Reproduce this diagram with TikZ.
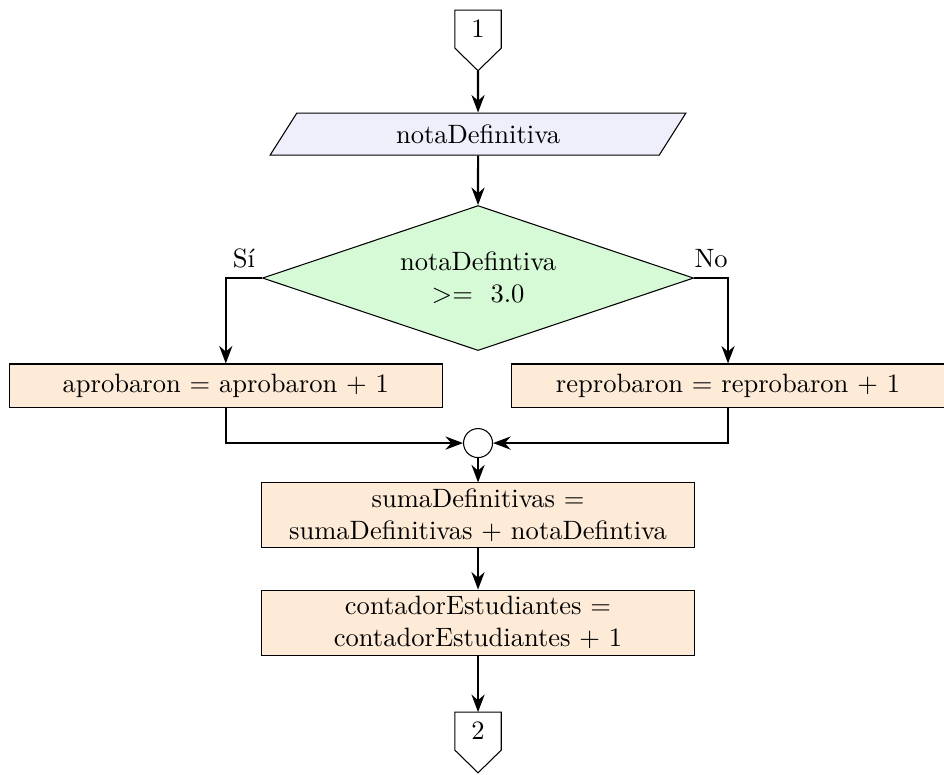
\documentclass[tikz,border=0pt]{standalone}
\usepackage{tikz}
\usetikzlibrary{arrows.meta, shapes.geometric, positioning}
\definecolor{entradafill}{HTML}{EFEFFC}
\definecolor{decisionfill}{HTML}{D6FAD6}
\definecolor{procesofill}{HTML}{FDEBD7}
\begin{document}
\begin{tikzpicture}[
    flecha/.style={thick, -{Stealth}},
    conector/.style={rectangle, inner sep=0pt, minimum width=0.6cm, minimum height=0.49cm, anchor=north},
    proceso/.style={rectangle, draw, fill=procesofill, align=center,
      minimum width=5.73cm, minimum height=0.57cm, inner sep=2pt}
  ]
  \useasboundingbox (0,0) rectangle (12.5,10.25);

  % ============ Entrada ============
  \node[conector] (ini) at (6.33,10.117) {1};
  \coordinate[below=0.3cm of ini.south] (ini-punta);
  \draw (ini.north west) -- (ini.north east) -- (ini.south east) -- (ini-punta) -- (ini.south west) -- cycle;

  \node[trapezium, trapezium left angle=70, trapezium right angle=110,
        trapezium stretches=true, draw, fill=entradafill,
        minimum width=5.52cm, minimum height=0.556cm] (lectura) at (6.33,8.475) {notaDefinitiva};

  % ============ Decision ============
  \node[diamond, aspect=3, draw, fill=decisionfill, align=center, inner sep=0pt,
        minimum width=5.71cm, minimum height=1.92cm] (pregunta) at (6.33,6.568)
        {notaDefintiva\\ >= \ 3.0};

  % two branches: passed and failed
  \node[proceso] (aprobo) at (2.99,5.145) {aprobaron = aprobaron + 1};
  \node[proceso] (reprobo) at (9.64,5.145) {reprobaron = reprobaron + 1};

  % ============ Union of branches ============
  \node[circle, draw, fill=white, minimum size=0.384cm, inner sep=0pt] (union) at (6.33,4.383) {};

  \node[proceso, minimum height=0.85cm] (suma) at (6.33,3.43)
    {sumaDefinitivas =\\ sumaDefinitivas + notaDefintiva};
  \node[proceso, minimum height=0.86cm] (contador) at (6.33,2.006)
    {contadorEstudiantes =\\ contadorEstudiantes + 1};

  \node[conector] (fin) at (6.33,0.821) {2};
  \coordinate[below=0.3cm of fin.south] (fin-punta);
  \draw (fin.north west) -- (fin.north east) -- (fin.south east) -- (fin-punta) -- (fin.south west) -- cycle;

  % ============ Connections ============
  \draw[flecha] (ini-punta) -- (lectura.north);
  \draw[flecha] (lectura.south) -- (pregunta.north);
  \draw[flecha] (pregunta.west) -| node[pos=0.25, above] {Sí} (aprobo.north);
  \draw[flecha] (pregunta.east) -| node[pos=0.25, above] {No} (reprobo.north);
  \draw[flecha] (aprobo.south) |- (union.west);
  \draw[flecha] (reprobo.south) |- (union.east);
  \draw[flecha] (union.south) -- (suma.north);
  \draw[flecha] (suma.south) -- (contador.north);
  \draw[flecha] (contador.south) -- (fin.north);

\end{tikzpicture}
\end{document}
